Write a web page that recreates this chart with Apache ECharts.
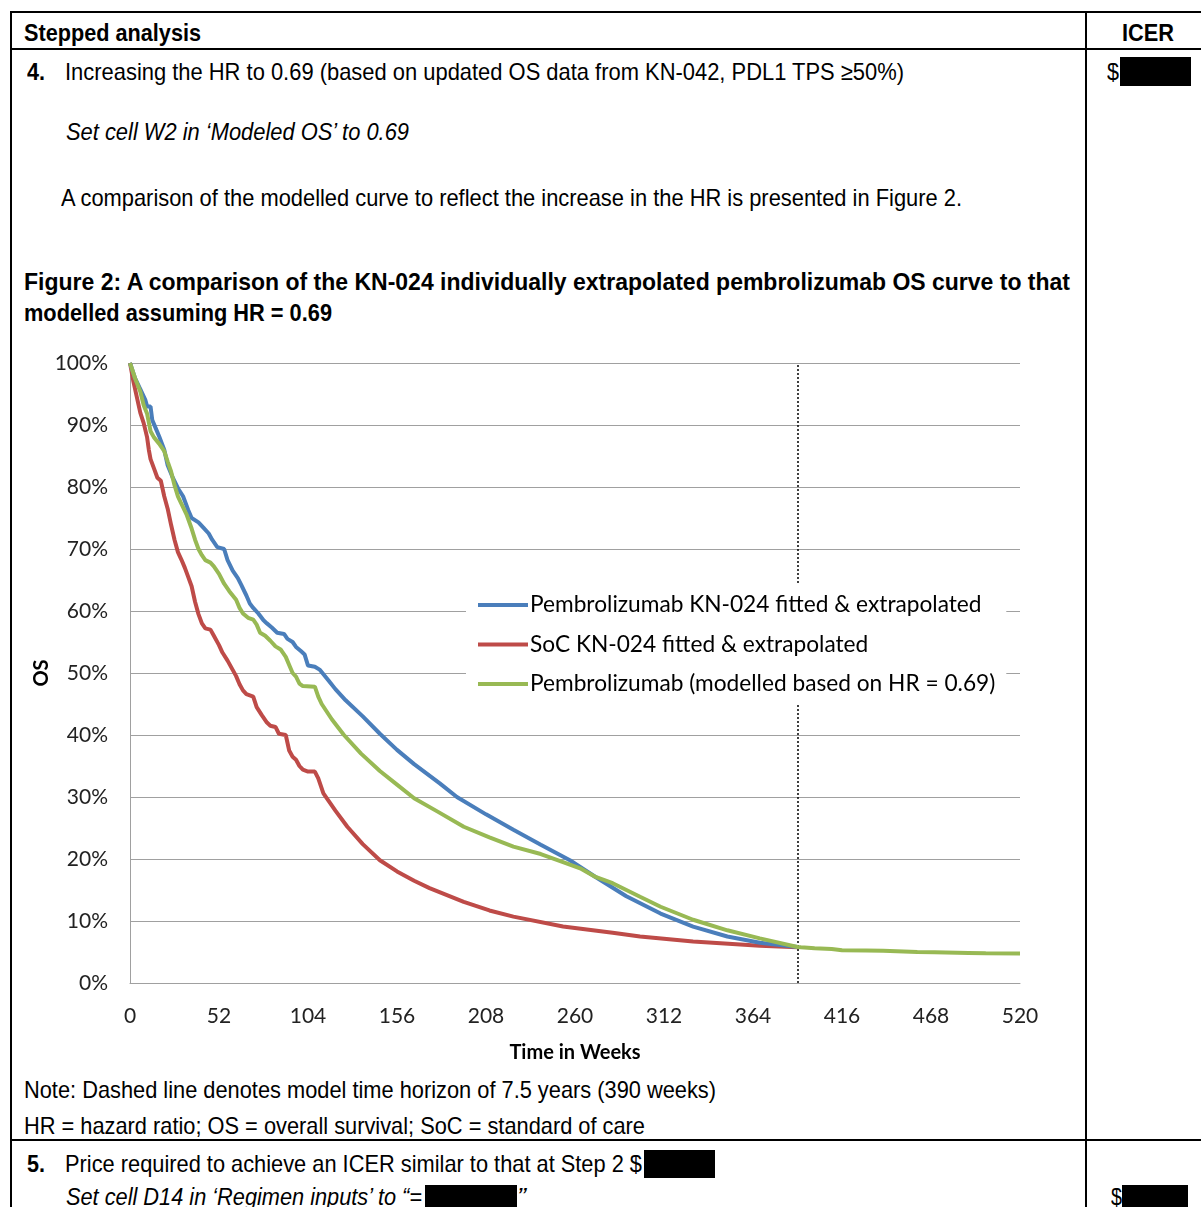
<!DOCTYPE html>
<html>
<head>
<meta charset="utf-8">
<script src="https://cdn.jsdelivr.net/npm/echarts@6/dist/echarts.min.js"></script>
<style>
  html, body { margin:0; padding:0; background:#fff; }
  body { width:1201px; height:1207px; position:relative; overflow:hidden; }
  .rule { position:absolute; background:#000; }
  .txt { position:absolute; white-space:nowrap; line-height:1.2; color:#000;
         font-family:"Liberation Sans Narrow","Liberation Sans",Arial,sans-serif; transform-origin:0 50%; }
  .box { position:absolute; background:#000; }
  #chart { position:absolute; left:20px; top:340px; width:1066px; height:730px; }
</style>
</head>
<body>
<div class="rule" style="left:10px;top:11px;width:1191px;height:2px"></div>
<div class="rule" style="left:10px;top:11px;width:2px;height:1196px"></div>
<div class="rule" style="left:10px;top:48px;width:1191px;height:2px"></div>
<div class="rule" style="left:1085px;top:11px;width:2px;height:1196px"></div>
<div class="rule" style="left:10px;top:1139px;width:1191px;height:2px"></div>
<div id="chart"></div>
<div class="box" style="left:1120px;top:57px;width:71px;height:29px"></div>
<div class="box" style="left:644px;top:1150px;width:71px;height:28px"></div>
<div class="box" style="left:425px;top:1185px;width:92px;height:22px"></div>
<div class="box" style="left:1122px;top:1185px;width:66px;height:22px"></div>
<script>
// ---- Data ----
const xTicks = [0, 52, 104, 156, 208, 260, 312, 364, 416, 468, 520];
const seriesNames = [
  'Pembrolizumab KN-024 fitted & extrapolated',
  'SoC KN-024 fitted & extrapolated',
  'Pembrolizumab (modelled based on HR = 0.69)'
];
const pembroWeeks = [0,3,6,9,10,12,13,15,17,20,22,25,28,31,34,36,40,43,46,48,51,55,57,60,63,65,68,70,72,75,78,80,83,86,90,92,95,97,100,102,104,108,111,116,120,126,136,146,156,166,181,191,208,224,240,257,272,290,310,329,349,368,390];
const pembroOS    = [100,97.5,95.8,94,93,93,90.8,89.5,88.2,86,83.5,81.5,79.8,78.5,76.3,75,74.3,73.4,72.5,71.5,70.3,70,68.2,66.5,65.3,64.2,62.5,61.2,60.5,59.6,58.5,58,57.3,56.5,56.3,55.5,55,54.2,53.5,53,51.2,51,50.5,48.8,47.4,45.6,43,40.2,37.6,35.3,32.2,30,27.2,24.7,22.3,19.8,17.1,14,11.2,9.1,7.5,6.5,5.8];
const socWeeks = [0,2,4,6,8,10,11,12,14,16,18,20,22,24,26,28,30,32,34,36,38,40,42,44,47,49,52,54,57,60,62,64,66,68,72,74,77,80,82,85,87,91,93,95,97,99,101,104,108,110,113,120,127,136,146,156,166,175,195,210,224,253,282,298,329,368,390];
const socOS    = [100,97,94.5,92,90.3,88,86,84.5,83,81.5,81,78.5,76.5,73.9,71.5,69.5,68.3,67,65.5,64,61.5,59.5,58,57.2,57,56,54.5,53.3,52,50.5,49.5,48.2,47.2,46.6,46.2,44.5,43.2,42,41.5,41.3,40.2,40,37.5,36.5,36,35,34.4,34.1,34.1,33,30.6,27.8,25.2,22.4,19.8,18,16.5,15.3,13.1,11.7,10.7,9.1,8.1,7.5,6.7,6.0,5.75];
const hrWeeks = [0,3,6,8,10,12,14,17,20,22,24,26,28,30,33,36,38,40,42,44,47,49,52,55,58,62,64,66,69,72,74,76,79,82,85,88,91,93,95,97,99,101,108,110,112,118,125,135,146,156,166,180,195,210,224,240,253,263,272,282,298,310,329,349,368,390,392,400,410,416,430,440,460,470,490,500,520];
const hrOS    = [100,97.5,95.4,93.2,91.8,89,88,87,85.8,84.1,82.5,80.3,78.5,77.3,75.6,73.3,71.5,70,69,68.2,67.8,67.2,66,64.4,63.2,61.8,60.5,59.6,58.9,58.6,57.8,56.5,56,55.2,54.3,53.8,52.6,51.3,50,49.4,48.3,47.9,47.8,46.2,45,42.5,40,37,34.2,32,29.8,27.6,25.2,23.5,22,20.8,19.5,18.5,17.1,16.1,13.9,12.3,10.2,8.5,7.2,5.8,5.75,5.6,5.5,5.3,5.25,5.2,5.0,4.95,4.85,4.8,4.75];
const horizonWeek = 390;

// ---- Document text ----
const texts = [
  {t:'Stepped analysis', x:24, w:177, y:33, b:1},
  {t:'ICER', x:1122, w:52, y:33, b:1},
  {t:'4.', x:27, w:18, y:72, b:1},
  {t:'Increasing the HR to 0.69 (based on updated OS data from KN-042, PDL1 TPS \u226550%)', x:65, w:839, y:72},
  {t:'$', x:1107, w:12, y:72},
  {t:'Set cell W2 in \u2018Modeled OS\u2019 to 0.69', x:66, w:343, y:132, i:1},
  {t:'A comparison of the modelled curve to reflect the increase in the HR is presented in Figure 2.', x:61, w:901, y:198},
  {t:'Figure 2: A comparison of the KN-024 individually extrapolated pembrolizumab OS curve to that', x:24, w:1046, y:282, b:1},
  {t:'modelled assuming HR = 0.69', x:24, w:308, y:313, b:1},
  {t:'Note: Dashed line denotes model time horizon of 7.5 years (390 weeks)', x:24, w:692, y:1090},
  {t:'HR = hazard ratio; OS = overall survival; SoC = standard of care', x:24, w:621, y:1126},
  {t:'5.', x:27, w:18, y:1164, b:1},
  {t:'Price required to achieve an ICER similar to that at Step 2 $', x:65, w:577, y:1164},
  {t:'Set cell D14 in \u2018Regimen inputs\u2019 to \u201c=', x:66, w:356, y:1197, i:1},
  {t:'\u201d', x:517, w:9, y:1197, i:1},
  {t:'$', x:1111, w:11, y:1197}
];
const FS = 24;
texts.forEach(o => {
  const d = document.createElement('div');
  d.className = 'txt';
  d.textContent = o.t;
  d.style.fontSize = FS + 'px';
  if (o.b) d.style.fontWeight = 'bold';
  if (o.i) d.style.fontStyle = 'italic';
  d.style.left = o.x + 'px';
  d.style.top = (o.y - FS * 0.6) + 'px';
  document.body.appendChild(d);
  const wd = d.getBoundingClientRect().width;
  d.style.transform = 'scaleX(' + (o.w / wd) + ')';
});

// ---- Chart ----
const zip = (xs, ys) => xs.map((x, i) => [x, ys[i]]);
const colors = ['#4A7EBB', '#BE4B48', '#98B954'];
const chart = echarts.init(document.getElementById('chart'));
const font = 'Lato, "Noto Sans", sans-serif';
chart.setOption({
  animation: false,
  color: colors,
  grid: { left: 110, top: 23, width: 890, height: 620, containLabel: false, outerBoundsMode: 'none' },
  legend: {
    orient: 'vertical', left: 446, top: 243, z: 20,
    backgroundColor: '#fff', padding: [10, 11, 9, 12],
    itemWidth: 50, itemHeight: 4, itemGap: 15.5, icon: 'rect',
    textStyle: { fontFamily: font, fontSize: 22.7, color: '#000', lineHeight: 24, padding: [0,0,0,-3] },
    data: seriesNames
  },
  xAxis: {
    type: 'value', min: 0, max: 520, interval: 52,
    name: 'Time in Weeks', nameLocation: 'middle', nameGap: 60,
    nameTextStyle: { fontFamily: font, fontSize: 20, fontWeight: 'bold', color: '#000' },
    axisLine: { lineStyle: { color: '#A0A0A0', width: 1 } },
    axisTick: { show: false },
    axisLabel: { fontFamily: font, fontSize: 21, color: '#222', margin: 23,
      customValues: xTicks },
    splitLine: { show: false }
  },
  yAxis: {
    type: 'value', min: 0, max: 100, interval: 10,
    name: 'OS', nameLocation: 'middle', nameRotate: 90, nameGap: 78, nameMoveOverlap: false,
    nameTextStyle: { fontFamily: font, fontSize: 20, fontWeight: 'bold', color: '#000' },
    axisLine: { show: true, lineStyle: { color: '#A0A0A0', width: 1 } },
    axisTick: { show: false },
    axisLabel: { fontFamily: font, fontSize: 21, color: '#222', margin: 22, formatter: '{value}%' },
    splitLine: { lineStyle: { color: '#A0A0A0', width: 1 } }
  },
  series: [
    { name: seriesNames[0], type: 'line', data: zip(pembroWeeks, pembroOS), showSymbol: false,
      lineStyle: { width: 4 }, z: 3,
      markLine: { silent: true, symbol: 'none', label: { show: false }, z: 1,
        lineStyle: { color: '#000', type: [2, 2], width: 1.5 },
        data: [{ xAxis: horizonWeek }] } },
    { name: seriesNames[1], type: 'line', data: zip(socWeeks, socOS), showSymbol: false,
      lineStyle: { width: 4 }, z: 2 },
    { name: seriesNames[2], type: 'line', data: zip(hrWeeks, hrOS), showSymbol: false,
      lineStyle: { width: 4 }, z: 4 }
  ]
});
</script>
</body>
</html>
